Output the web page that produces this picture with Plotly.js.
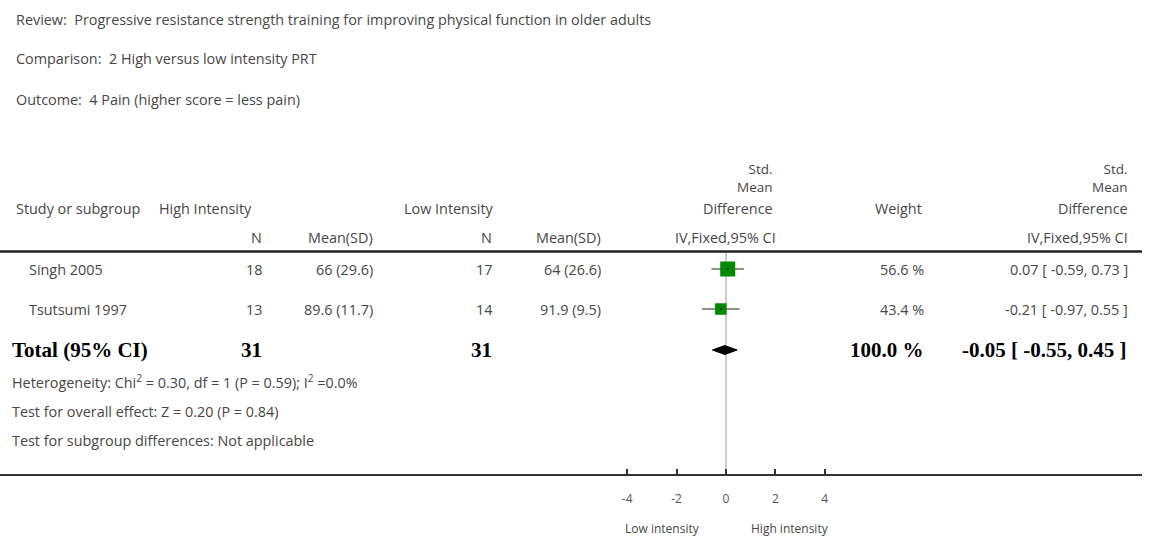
<!DOCTYPE html>
<html>
<head>
<meta charset="utf-8">
<script src="https://cdn.plot.ly/plotly-3.0.1.min.js"></script>
<style>html,body{margin:0;padding:0;background:#fff;}#chart{width:1156px;height:539px;}</style>
</head>
<body>
<div id="chart"></div>
<script>
// ---- data ----
const studies = ["Singh 2005", "Tsutsumi 1997"];
const highN = [18, 13];
const highMeanSD = ["66 (29.6)", "89.6 (11.7)"];
const lowN = [17, 14];
const lowMeanSD = ["64 (26.6)", "91.9 (9.5)"];
const weights = [56.6, 43.4];
const smd = [0.07, -0.21];
const ciLow = [-0.59, -0.97];
const ciHigh = [0.73, 0.55];
const totalHighN = 31;
const totalLowN = 31;
const totalWeight = 100.0;
const totalSmd = -0.05;
const totalLow = -0.55;
const totalHigh = 0.45;
const tickVals = [-4, -2, 0, 2, 4];
const tickText = ["-4", "-2", "0", "2", "4"];

// ---- layout helpers (pixel -> paper) ----
const W = 1156, H = 539;
const px = x => x / W;
const rowY = [269, 309];
const totalY = 350;
const FONT = "'Open Sans', Lato, sans-serif";
const SERIF = "'Liberation Serif', 'DejaVu Serif', serif";
const GREY = "#474747";
const FS = 14.4;

const ann = [];
function T(text, x, y, align, opts) {
  opts = opts || {};
  const a = {
    text: text, xref: "paper", x: px(x),
    xanchor: align || "left", yanchor: "middle", showarrow: false,
    font: {family: opts.family || FONT, size: opts.size || FS, color: opts.color || GREY},
    align: align || "left"
  };
  if (opts.paperY) { a.yref = "paper"; a.y = 1 - y / H; } else { a.yref = "y"; a.y = y; }
  ann.push(a);
}
function fmt2(v) { return v.toFixed(2); }

T("Review:&nbsp;&nbsp;Progressive resistance strength training for improving physical function in older adults", 14, 19);
T("Comparison:&nbsp;&nbsp;2 High versus low intensity PRT", 14, 58);
T("Outcome:&nbsp;&nbsp;4 Pain (higher score = less pain)", 14, 99);

// header
T("Study or subgroup", 14, 208);
T("High Intensity", 157, 208);
T("Low Intensity", 402, 208);
T("Std.<br>Mean", 775, 178, "right", {size: 13.5});
T("Difference", 775, 208, "right");
T("Weight", 898, 208, "center");
T("Std.<br>Mean", 1130, 178, "right", {size: 13.5});
T("Difference", 1130, 208, "right");
T("N", 264, 237, "right");
T("Mean(SD)", 375, 237, "right");
T("N", 494, 237, "right");
T("Mean(SD)", 603, 237, "right");
T("IV,Fixed,95% CI", 725, 237, "center");
T("IV,Fixed,95% CI", 1130, 237, "right");

for (let i = 0; i < studies.length; i++) {
  const y = rowY[i];
  T(studies[i], 27, y);
  T(String(highN[i]), 264, y, "right");
  T(highMeanSD[i], 375, y, "right");
  T(String(lowN[i]), 494, y, "right");
  T(lowMeanSD[i], 603, y, "right");
  T(weights[i].toFixed(1) + " %", 926, y, "right");
  T(fmt2(smd[i]) + " [ " + fmt2(ciLow[i]) + ", " + fmt2(ciHigh[i]) + " ]", 1130, y, "right");
}
const boldOpts = {family: SERIF, size: 21, color: "#000"};
T("<b>Total (95% CI)</b>", 10, totalY, "left", boldOpts);
T("<b>" + totalHighN + "</b>", 264, totalY, "right", boldOpts);
T("<b>" + totalLowN + "</b>", 494, totalY, "right", boldOpts);
T("<b>" + totalWeight.toFixed(1) + " %</b>", 926, totalY, "right", boldOpts);
T("<b>" + fmt2(totalSmd) + "&nbsp;[ " + fmt2(totalLow) + ",&nbsp;" + fmt2(totalHigh) + " ]</b>", 1128, totalY, "right", boldOpts);

T("Heterogeneity: Chi<sup>2</sup> = 0.30, df = 1 (P = 0.59); I<sup>2</sup> =0.0%", 10, 381);
T("Test for overall effect: Z = 0.20 (P = 0.84)", 10, 411);
T("Test for subgroup differences: Not applicable", 10, 440);

T("Low intensity", 662, 528, "center", {size: 12, paperY: true});
T("High intensity", 790, 528, "center", {size: 12, paperY: true});

// ---- traces ----
const traces = [];
traces.push({
  type: "scatter", mode: "markers", x: smd, y: rowY, opacity: 1,
  marker: {symbol: "square", size: weights.map(w => w * 0.265), color: "#008a00",
           opacity: 1, line: {width: 0}},
  error_x: {type: "data", symmetric: false,
            array: smd.map((v, i) => ciHigh[i] - v),
            arrayminus: smd.map((v, i) => v - ciLow[i]),
            width: 0, thickness: 1, color: "#222"},
  hoverinfo: "skip", showlegend: false
});
traces.push({
  type: "scatter", mode: "markers", x: smd, y: rowY,
  marker: {symbol: "circle", size: 2, color: "#000"},
  hoverinfo: "skip", showlegend: false
});
const dh = 4.5;
traces.push({
  type: "scatter", mode: "lines",
  x: [totalLow, totalSmd, totalHigh, totalSmd, totalLow],
  y: [totalY, totalY - dh, totalY, totalY + dh, totalY],
  fill: "toself", fillcolor: "#000", line: {color: "#000", width: 1},
  hoverinfo: "skip", showlegend: false
});

const pxPerUnit = 24.7, zeroPx = 726, rightPx = 1142;
const layout = {
  width: W, height: H,
  margin: {l: 0, r: 0, t: 0, b: 0},
  paper_bgcolor: "#fff", plot_bgcolor: "#fff",
  showlegend: false,
  xaxis: {
    domain: [0, rightPx / W],
    range: [-zeroPx / pxPerUnit, (rightPx - zeroPx) / pxPerUnit],
    showline: true, linecolor: "#333", linewidth: 2,
    ticks: "inside", ticklen: 5, tickwidth: 2, tickcolor: "#333",
    tickvals: tickVals, ticktext: tickText,
    ticklabelstandoff: 13,
    tickfont: {family: FONT, size: 12, color: "#555"},
    showgrid: false, zeroline: false, fixedrange: true
  },
  yaxis: {
    domain: [1 - 474 / H, 1], range: [474, 0],
    visible: false, showgrid: false, zeroline: false, fixedrange: true
  },
  shapes: [
    {type: "line", xref: "paper", yref: "y", x0: 0, x1: rightPx / W, y0: 251.5, y1: 251.5,
     line: {color: "#222", width: 2.5}},
    {type: "line", xref: "x", yref: "y", x0: 0, x1: 0, y0: 253, y1: 474,
     line: {color: "#999", width: 1}, layer: "below"}
  ],
  annotations: ann
};
Plotly.newPlot("chart", traces, layout, {staticPlot: true, displayModeBar: false});
</script>
</body>
</html>
